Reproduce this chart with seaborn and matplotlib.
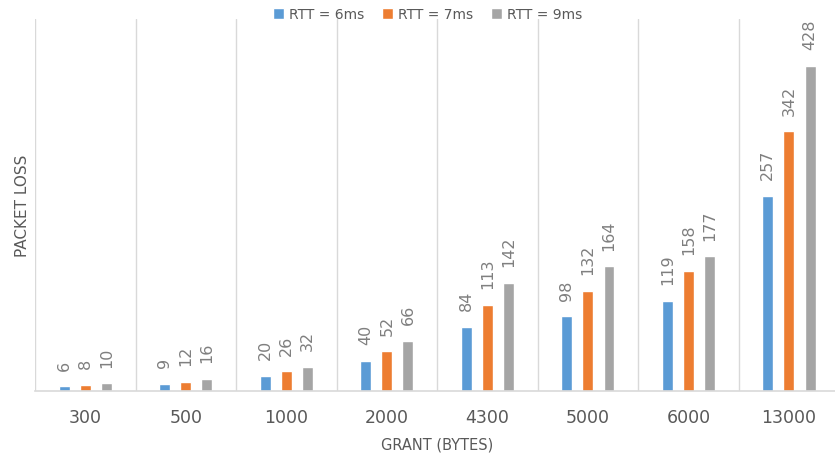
import matplotlib
matplotlib.use("Agg")
import matplotlib.pyplot as plt
import seaborn as sns
import pandas as pd

# Packet loss per grant size for three round-trip times
grants = ["300", "500", "1000", "2000", "4300", "5000", "6000", "13000"]
rtt_6ms = [6, 9, 20, 40, 84, 98, 119, 257]
rtt_7ms = [8, 12, 26, 52, 113, 132, 158, 342]
rtt_9ms = [10, 16, 32, 66, 142, 164, 177, 428]
series_names = ["RTT = 6ms", "RTT = 7ms", "RTT = 9ms"]
colors = ["#5B9BD5", "#ED7D31", "#A5A5A5"]

rows = []
for name, vals in zip(series_names, [rtt_6ms, rtt_7ms, rtt_9ms]):
    for g, v in zip(grants, vals):
        rows.append({"grant": g, "loss": v, "rtt": name})
df = pd.DataFrame(rows)

sns.set_theme(style="white")
plt.rcParams["font.family"] = ["DejaVu Sans"]

fig = plt.figure(figsize=(8.35, 4.6), dpi=100)
ax = fig.add_axes([0.042, 0.148, 0.963, 0.809])

sns.barplot(data=df, x="grant", y="loss", hue="rtt", order=grants,
            hue_order=series_names, palette=colors, width=0.63, gap=0.48,
            saturation=1, errorbar=None, ax=ax, legend=True)

# value labels above each bar
for container in ax.containers:
    for bar in container:
        h = bar.get_height()
        ax.annotate(f"{int(round(h))}", (bar.get_x() + bar.get_width() / 2, h),
                    xytext=(0, 12), textcoords="offset points",
                    ha="center", va="bottom", rotation=90,
                    fontsize=11.5, color="#7F7F7F")

ax.set_xlim(-0.5, 7.5)
ax.set_ylim(0, 490)
ax.set_yticks([])

# separators between categories
for b in [x + 0.5 for x in range(-1, 8)]:
    ax.axvline(b, color="#D9D9D9", lw=1, zorder=0)

for side in ["top", "right", "left"]:
    ax.spines[side].set_visible(False)
ax.spines["bottom"].set_color("#D9D9D9")
ax.spines["bottom"].set_linewidth(1.2)

ax.tick_params(axis="x", length=0, pad=12, labelsize=12.5, labelcolor="#595959")
ax.set_xlabel("GRANT (BYTES)", fontsize=10.5, color="#595959", labelpad=8)
ax.set_ylabel("PACKET LOSS", fontsize=11, color="#595959", labelpad=4)

leg = ax.legend(loc="upper center", bbox_to_anchor=(0.488, 1.064), ncol=3,
                frameon=False, fontsize=10, handlelength=0.8, handleheight=0.8,
                handletextpad=0.35, columnspacing=1.3)
for t in leg.get_texts():
    t.set_color("#595959")

fig.savefig("out.png", dpi=100)
